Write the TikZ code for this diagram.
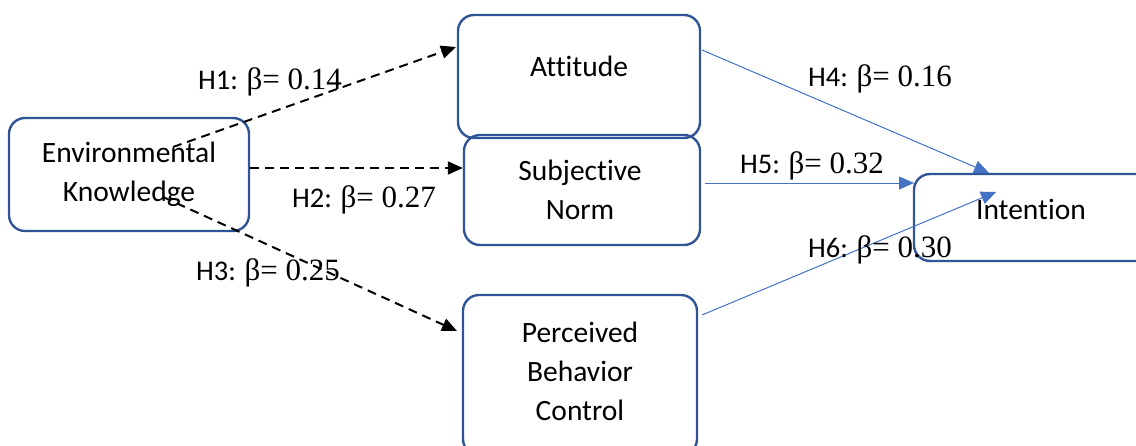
\documentclass[tikz,border=0pt]{standalone}
\usepackage{fontspec}
\setmainfont{Carlito}[Ligatures=NoCommon]
\newfontfamily\tnr{Liberation Serif}
\usetikzlibrary{arrows.meta,calc}
\definecolor{boxblue}{HTML}{2F5597}
\definecolor{arrblue}{HTML}{4472C4}
\begin{document}
\begin{tikzpicture}[x=1pt,y=-1pt,
  box/.style={draw=boxblue,line width=2.4pt,rounded corners=16pt,inner sep=0pt},
  btext/.style={align=center,font=\fontsize{29.5}{39}\selectfont,inner sep=0pt},
  hlab/.style={inner sep=0pt,font=\fontsize{28.5}{34}\selectfont},
  dasharrow/.style={draw=black,line width=2pt,dash pattern=on 9pt off 6pt,-{Triangle[length=15pt,width=13pt]}},
  bluearrow/.style={draw=arrblue,line width=1pt,-{Triangle[length=15pt,width=13pt]}}]
\useasboundingbox (0,0) rectangle (1136,445);
\begin{scope}
\clip (0,0) rectangle (1136,445);
% boxes
\node[box,minimum width=240pt,minimum height=113pt] (ek) at (129,174.5) {};
\node[box,minimum width=242pt,minimum height=123pt] (att) at (579,76.5) {};
\node[box,minimum width=236pt,minimum height=110pt] (sn) at (582,190) {};
\node[box,minimum width=234pt,minimum height=160pt] (pbc) at (580,375) {};
\node[box,minimum width=240pt,minimum height=87pt] (int) at (1034,217.5) {};
% texts
\node[btext] (ekt) at (129,174) {Environmental\\Knowledge};
\node[btext] (attt) at (579,66) {Attitude};
\node[btext] (snt) at (580,190) {Subjective\\Norm};
\node[btext] (pbct) at (580,371) {Perceived\\Behavior\\Control};
\node[btext] (intt) at (1031,209) {Intention};
% connector end points
\coordinate (h1s) at (173,147);
\coordinate (h1e) at (456,47);
\coordinate (h3s) at (163,197);
\coordinate (h3e) at (457,331);
\coordinate (h4s) at (702,50);
\coordinate (h4e) at (989,173);
\coordinate (h5s) at (705,183);
\coordinate (h5e) at (914,183);
\coordinate (h6s) at (702,315);
\coordinate (h6e) at (996,192);
% connectors
\draw[dasharrow] (h1s) -- (h1e);
\draw[dasharrow] (ek.east |- 0,168) -- (sn.west |- 0,168);
\draw[dasharrow] (h3s) -- (h3e);
\draw[bluearrow] (h4s) -- (h4e);
\draw[bluearrow] (h5s) -- (h5e);
\draw[bluearrow] (h6s) -- (h6e);
% labels
\node[hlab] (l1) at (270,82) {H1: {\tnr\fontsize{31}{34}\selectfont β= 0.14}};
\node[hlab] (l2) at (364,200) {H2: {\tnr\fontsize{31}{34}\selectfont β= 0.27}};
\node[hlab] (l3) at (268,273) {H3: {\tnr\fontsize{31}{34}\selectfont β= 0.25}};
\node[hlab] (l4) at (880,79) {H4: {\tnr\fontsize{31}{34}\selectfont β= 0.16}};
\node[hlab] (l5) at (812,166) {H5: {\tnr\fontsize{31}{34}\selectfont β= 0.32}};
\node[hlab] (l6) at (880,250) {H6: {\tnr\fontsize{31}{34}\selectfont β= 0.30}};
\end{scope}
\end{tikzpicture}
\end{document}
